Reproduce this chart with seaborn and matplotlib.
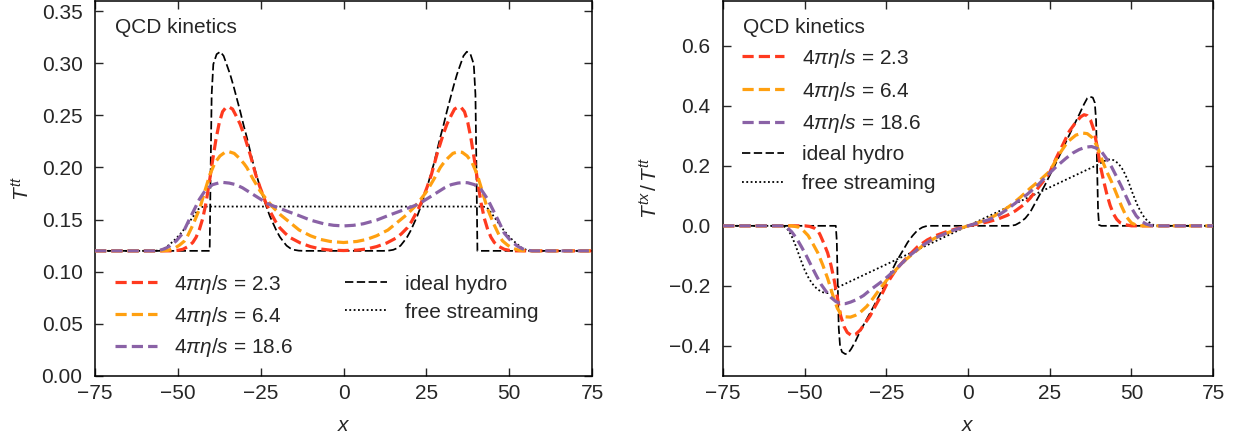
import numpy as np
import pandas as pd
import matplotlib
matplotlib.use("Agg")
import matplotlib.pyplot as plt
import seaborn as sns

sns.set_theme(style="ticks")
plt.rcParams["font.family"] = ["Liberation Sans", "DejaVu Sans"]
plt.rcParams["mathtext.fontset"] = "custom"
plt.rcParams["mathtext.rm"] = "Liberation Sans"
plt.rcParams["mathtext.it"] = "Liberation Sans:italic"
plt.rcParams["mathtext.bf"] = "Liberation Sans:bold"

# ---------------- energy density T^tt ----------------
tt_hydro_x = [-75, -40.4, -40.1, -39.8, -39.3, -38.3, -37.2, -36.2, -35.3, -34.2, -33.2, -32.2, -31.2,
              -30.2, -29.2, -28.2, -27.2, -26.2, -25.2, -24.2, -23.2, -22.2, -21.2, -20.2, -19.2, -18.2,
              -17.2, -16.1, -15.0, -13.5, -12.0,
              12.0, 13.5, 15.0, 16.1, 17.2, 18.2, 19.2, 20.2, 21.2, 22.2, 23.2, 24.2, 25.2, 26.2, 27.2,
              28.2, 29.2, 30.2, 31.2, 32.2, 33.2, 34.2, 35.3, 36.2, 37.2, 38.3, 39.3, 39.8, 40.1, 40.4, 75]
tt_hydro_y = [0.120, 0.120, 0.200, 0.270, 0.299, 0.3086, 0.311, 0.307, 0.299, 0.289, 0.278, 0.266, 0.254,
              0.241, 0.229, 0.216, 0.203, 0.192, 0.181, 0.171, 0.1616, 0.153, 0.146, 0.139, 0.1333, 0.129,
              0.125, 0.1225, 0.121, 0.1202, 0.120,
              0.120, 0.1202, 0.121, 0.1225, 0.125, 0.129, 0.1333, 0.139, 0.146, 0.153, 0.1616, 0.171, 0.181,
              0.192, 0.203, 0.216, 0.229, 0.241, 0.254, 0.266, 0.278, 0.289, 0.299, 0.307, 0.311, 0.3086,
              0.299, 0.270, 0.200, 0.120, 0.120]

tt_visc1_x = [-75, -52, -50, -48.5, -47, -45.5, -44.5, -43.5, -42.5, -41.5, -40.5, -39.5, -38.5, -37.5,
              -36.5, -35.5, -34.6, -33.5, -32.5, -31.2, -30, -28.2, -26.5, -25.2, -23.5, -22.2, -20.5,
              -19.2, -17.5, -16.1, -13, -10, -7, -4, 0,
              4, 7, 10, 13, 16.1, 17.5, 19.2, 20.5, 22.2, 23.5, 25.2, 26.5, 28.2, 30, 31.2, 32.5, 33.5,
              34.6, 35.5, 36.5, 37.5, 38.5, 39.5, 40.5, 41.5, 42.5, 43.5, 44.5, 45.5, 47, 48.5, 50, 52, 75]
tt_visc1_y = [0.120, 0.120, 0.1205, 0.1215, 0.124, 0.128, 0.133, 0.1405, 0.151, 0.166, 0.186, 0.207,
              0.227, 0.243, 0.2535, 0.2575, 0.258, 0.256, 0.250, 0.2415, 0.231, 0.2127, 0.193, 0.181,
              0.1665, 0.158, 0.148, 0.142, 0.1365, 0.1327, 0.1275, 0.1241, 0.1218, 0.1207, 0.1203,
              0.1207, 0.1218, 0.1241, 0.1275, 0.1327, 0.1365, 0.142, 0.148, 0.158, 0.1665, 0.181, 0.193,
              0.2127, 0.231, 0.2415, 0.250, 0.256, 0.258, 0.2575, 0.2535, 0.243, 0.227, 0.207, 0.186,
              0.166, 0.151, 0.1405, 0.133, 0.128, 0.124, 0.1215, 0.1205, 0.120, 0.120]

tt_visc2_x = [-75, -55, -53, -51, -49.5, -48, -47.3, -45.3, -43.3, -41.8, -40.3, -38.8, -37.3, -35.8,
              -34.5, -33, -31.5, -30, -29.2, -27.5, -25.2, -23.2, -21.2, -19, -16.1, -13.4, -10, -7, -4, 0,
              4, 7, 10, 13.4, 16.1, 19, 21.2, 23.2, 25.2, 27.5, 29.2, 30, 31.5, 33, 34.5, 35.8, 37.3, 38.8,
              40.3, 41.8, 43.3, 45.3, 47.3, 48, 49.5, 51, 53, 55, 75]
tt_visc2_y = [0.120, 0.120, 0.1205, 0.1225, 0.1255, 0.1295, 0.1327, 0.146, 0.1615, 0.178, 0.1935, 0.2045,
              0.211, 0.2145, 0.215, 0.2135, 0.209, 0.2035, 0.200, 0.190, 0.1775, 0.169, 0.1615, 0.1545,
              0.147, 0.140, 0.1345, 0.131, 0.129, 0.128,
              0.129, 0.131, 0.1345, 0.140, 0.147, 0.1545, 0.1615, 0.169, 0.1775, 0.190, 0.200, 0.2035,
              0.209, 0.2135, 0.215, 0.2145, 0.211, 0.2045, 0.1935, 0.178, 0.1615, 0.146, 0.1327, 0.1295,
              0.1255, 0.1225, 0.1205, 0.120, 0.120]

tt_visc3_x = [-75, -57, -55.5, -54, -52.5, -50.5, -48.5, -46.8, -45.3, -43.5, -41.5, -39.5, -37.5, -36.3,
              -34.5, -32.5, -30.5, -29, -27, -25, -23, -21, -19, -17, -14, -10, -6, -3, 0,
              3, 6, 10, 14, 17, 19, 21, 23, 25, 27, 29, 30.5, 32.5, 34.5, 36.3, 37.5, 39.5, 41.5, 43.5,
              45.3, 46.8, 48.5, 50.5, 52.5, 54, 55.5, 57, 75]
tt_visc3_y = [0.120, 0.120, 0.1205, 0.122, 0.1245, 0.1295, 0.137, 0.1485, 0.158, 0.1695, 0.179, 0.1835,
              0.1853, 0.1856, 0.185, 0.1835, 0.1805, 0.1775, 0.1735, 0.1695, 0.1655, 0.1628, 0.1605,
              0.158, 0.1545, 0.1495, 0.146, 0.1445, 0.1439,
              0.1445, 0.146, 0.1495, 0.1545, 0.158, 0.1605, 0.1628, 0.1655, 0.1695, 0.1735, 0.1775,
              0.1805, 0.1835, 0.185, 0.1856, 0.1853, 0.1835, 0.179, 0.1695, 0.158, 0.1485, 0.137, 0.1295,
              0.1245, 0.122, 0.1205, 0.120, 0.120]

tt_free_x = [-75, -57, -55.5, -54, -52.4, -50.8, -49.3, -47.8, -46.3, -45, -43.8, -42.8, -42,
             42, 42.8, 43.8, 45, 46.3, 47.8, 49.3, 50.8, 52.4, 54, 55.5, 57, 75]
tt_free_y = [0.120, 0.120, 0.1205, 0.1225, 0.1264, 0.131, 0.136, 0.142, 0.1488, 0.1545, 0.160, 0.162,
             0.1625, 0.1625, 0.162, 0.160, 0.1545, 0.1488, 0.142, 0.136, 0.131, 0.1264, 0.1225, 0.1205,
             0.120, 0.120]

# ---------------- flow velocity T^tx / T^tt ----------------
tx_hydro_x = [-75, -40.5, -40.2, -39.9, -39.6, -39.2, -38.6, -37.6, -36.8, -35.8, -34.5, -33, -31, -29,
              -27, -25, -23.5, -22, -20, -18.5, -17, -15.5, -14, -12.5,
              13, 14.5, 16, 17.5, 19, 20.5, 22, 23.5, 25, 26.5, 28, 30, 32, 34, 35.5, 36.5, 37.3, 38.2,
              38.8, 39.2, 39.5, 39.8, 40.1, 40.8, 75]
tx_hydro_y = [0, 0, -0.05, -0.20, -0.34, -0.40, -0.42, -0.427, -0.425, -0.41, -0.385, -0.35, -0.31,
              -0.27, -0.228, -0.185, -0.153, -0.12, -0.083, -0.055, -0.033, -0.015, -0.005, 0,
              0, 0.003, 0.012, 0.025, 0.045, 0.075, 0.105, 0.135, 0.168, 0.200, 0.234, 0.280, 0.326,
              0.370, 0.405, 0.425, 0.430, 0.427, 0.410, 0.350, 0.200, 0.050, 0.003, 0, 0]

tx_visc1_x = [-75, -50, -48.5, -47, -46, -45.3, -44.1, -43, -42, -41, -40, -39, -38, -37, -35.6, -34.5,
              -33, -31.8, -30, -28.8, -26.5, -24.7, -22.5, -20.6, -18, -15.5, -12.5, -10, -7, -4, 0,
              3, 6, 9, 12, 14.5, 17, 19, 21, 23, 25, 27, 29, 31, 33, 34.5, 35.5, 36.5, 37.5, 38.5, 39.5,
              40.5, 41.5, 42.5, 43.5, 44.5, 45.5, 46.5, 48, 50, 75]
tx_visc1_y = [0, 0, -0.002, -0.008, -0.016, -0.03, -0.06, -0.09, -0.13, -0.18, -0.24, -0.30, -0.335,
              -0.355, -0.366, -0.362, -0.347, -0.328, -0.30, -0.275, -0.23, -0.19, -0.153, -0.128,
              -0.097, -0.07, -0.047, -0.033, -0.021, -0.011, 0,
              0.006, 0.013, 0.022, 0.035, 0.05, 0.07, 0.092, 0.12, 0.148, 0.178, 0.226, 0.27, 0.315,
              0.345, 0.363, 0.370, 0.367, 0.352, 0.320, 0.265, 0.200, 0.150, 0.105, 0.068, 0.040, 0.022,
              0.011, 0.004, 0, 0]

tx_visc2_x = [-75, -54, -52, -50.5, -49, -47.5, -46, -44.5, -43, -42, -41, -40, -39, -37.5, -36, -34.5,
              -33, -31, -29, -27, -24.7, -22, -19, -16, -13, -10, -7, -4, 0,
              4, 7, 10, 13, 16, 19, 22, 25, 28, 30.5, 33, 35, 36.5, 38, 39.5, 41, 42.5, 44, 45.5, 47,
              48.5, 50, 51.5, 53, 75]
tx_visc2_y = [0, 0, -0.004, -0.015, -0.032, -0.06, -0.09, -0.13, -0.175, -0.21, -0.245, -0.275, -0.293,
              -0.303, -0.304, -0.298, -0.288, -0.268, -0.24, -0.21, -0.178, -0.145, -0.112, -0.085,
              -0.058, -0.04, -0.026, -0.014, 0,
              0.014, 0.027, 0.045, 0.068, 0.095, 0.125, 0.152, 0.182, 0.240, 0.280, 0.302, 0.309, 0.307,
              0.294, 0.265, 0.220, 0.180, 0.145, 0.105, 0.065, 0.030, 0.010, 0.002, 0, 0]

tx_visc3_x = [-75, -57, -55.5, -54, -52.5, -51, -49.5, -48, -46.5, -45, -43.5, -42, -40.5, -39, -37.5,
              -36, -34, -32, -30, -28, -26, -24, -22, -20, -18, -16, -14, -12, -10, -7, -4, 0,
              3, 6, 9, 12, 15, 18, 21, 24, 27, 30, 32, 34, 36, 37.8, 39.5, 41, 42.5, 44, 45.5, 47, 48.5,
              50, 51.5, 53, 54.5, 56, 57, 75]
tx_visc3_y = [0, 0, -0.005, -0.02, -0.042, -0.07, -0.10, -0.133, -0.165, -0.195, -0.218, -0.238, -0.252,
              -0.259, -0.259, -0.254, -0.245, -0.232, -0.214, -0.198, -0.182, -0.163, -0.143, -0.122,
              -0.10, -0.083, -0.066, -0.052, -0.040, -0.026, -0.013, 0,
              0.010, 0.019, 0.033, 0.055, 0.080, 0.104, 0.132, 0.165, 0.197, 0.225, 0.242, 0.254, 0.262,
              0.264, 0.258, 0.245, 0.222, 0.195, 0.163, 0.130, 0.095, 0.060, 0.033, 0.016, 0.006, 0.001,
              0, 0]

tx_free_x = [-75, -57, -56, -55, -54, -53, -52, -51, -50, -49, -48, -47, -46, -45, -44, -43, -42, -41,
             -40, -39, 40, 41.5, 43, 44.5, 46, 47.5, 49, 50.5, 52, 53.5, 55, 56.5, 58, 75]
tx_free_y = [0, 0, -0.004, -0.015, -0.035, -0.06, -0.09, -0.12, -0.148, -0.17, -0.188, -0.202, -0.212,
             -0.219, -0.223, -0.224, -0.221, -0.213, -0.205, -0.20, 0.205, 0.215, 0.221, 0.219, 0.208,
             0.185, 0.150, 0.105, 0.065, 0.035, 0.015, 0.004, 0, 0]

visc_labels = [r"$4\pi\eta/s$ = 2.3", r"$4\pi\eta/s$ = 6.4", r"$4\pi\eta/s$ = 18.6"]
visc_colors = ["#ff3a1f", "#ffa010", "#8a62a6"]
hydro_label = "ideal hydro"
free_label = "free streaming"
panel_text = "QCD kinetics"

x_ticks = [-75, -50, -25, 0, 25, 50, 75]
tt_ticks = [0.00, 0.05, 0.10, 0.15, 0.20, 0.25, 0.30, 0.35]
tx_ticks = [-0.4, -0.2, 0.0, 0.2, 0.4, 0.6]

FS = 15
visc_style = dict(linewidth=2.3, linestyle=(0, (3.5, 1.6)))
hydro_style = dict(linewidth=1.25, color="black", linestyle=(0, (4.8, 2.0)))
free_style = dict(linewidth=1.3, color="black", linestyle=(0, (1.0, 1.4)))

fig = plt.figure(figsize=(12.34, 4.38), dpi=100)
ax1 = fig.add_axes([0.077, 0.1416, 0.4028, 0.857])
ax2 = fig.add_axes([0.586, 0.1416, 0.397, 0.857])


def draw_panel(ax, visc, hydro, free):
    lines = []
    for (xs, ys), lab, col in zip(visc, visc_labels, visc_colors):
        df = pd.DataFrame({"x": xs, "y": ys})
        sns.lineplot(data=df, x="x", y="y", ax=ax, color=col, label=lab,
                     estimator=None, sort=False, legend=False, **visc_style)
        lines.append(ax.get_lines()[-1])
    df = pd.DataFrame({"x": hydro[0], "y": hydro[1]})
    sns.lineplot(data=df, x="x", y="y", ax=ax, label=hydro_label,
                 estimator=None, sort=False, legend=False, **hydro_style)
    lines.append(ax.get_lines()[-1])
    df = pd.DataFrame({"x": free[0], "y": free[1]})
    sns.lineplot(data=df, x="x", y="y", ax=ax, label=free_label,
                 estimator=None, sort=False, legend=False, **free_style)
    lines.append(ax.get_lines()[-1])
    # colored curves on top of the black references
    for ln in lines[:3]:
        ln.set_zorder(3)
    return lines


lines1 = draw_panel(ax1,
                    [(tt_visc1_x, tt_visc1_y), (tt_visc2_x, tt_visc2_y), (tt_visc3_x, tt_visc3_y)],
                    (tt_hydro_x, tt_hydro_y), (tt_free_x, tt_free_y))
lines2 = draw_panel(ax2,
                    [(tx_visc1_x, tx_visc1_y), (tx_visc2_x, tx_visc2_y), (tx_visc3_x, tx_visc3_y)],
                    (tx_hydro_x, tx_hydro_y), (tx_free_x, tx_free_y))

for ax in (ax1, ax2):
    ax.set_xlim(-75, 75)
    ax.set_xticks(x_ticks)
    ax.set_xlabel(r"$x$", fontsize=FS, labelpad=9)
    ax.tick_params(direction="in", top=True, right=True, length=6, width=1.0,
                   labelsize=FS)
    ax.tick_params(axis="x", pad=6)
    ax.tick_params(axis="y", pad=9)
    for sp in ax.spines.values():
        sp.set_linewidth(1.1)
        sp.set_color("black")
    ax.text(0.04, 0.928, panel_text, transform=ax.transAxes, fontsize=FS,
            ha="left", va="center")

ax1.set_ylim(0, 0.36)
ax1.set_yticks(tt_ticks)
ax1.set_yticklabels([f"{v:.2f}" for v in tt_ticks])
ax1.set_ylabel(r"$T^{tt}$", fontsize=FS, labelpad=6)

ax2.set_ylim(-0.5, 0.75)
ax2.set_yticks(tx_ticks)
ax2.set_yticklabels([f"{v:.1f}".replace("-", "\u2212") for v in tx_ticks])
ax2.set_ylabel(r"$T^{tx}\,/\,T^{tt}$", fontsize=FS, labelpad=6)

leg_kw = dict(frameon=False, fontsize=FS, handlelength=2.0, handletextpad=0.85,
              borderpad=0.0, borderaxespad=0.0)
leg1 = ax1.legend(handles=lines1, labels=visc_labels + [hydro_label, free_label],
                  ncol=2, loc="upper left", bbox_to_anchor=(0.04, 0.275),
                  columnspacing=2.5, labelspacing=0.42, **leg_kw)
leg2 = ax2.legend(handles=lines2, labels=visc_labels + [hydro_label, free_label],
                  ncol=1, loc="upper left", bbox_to_anchor=(0.039, 0.877),
                  labelspacing=0.47, **leg_kw)

fig.savefig("out.png", dpi=100)
